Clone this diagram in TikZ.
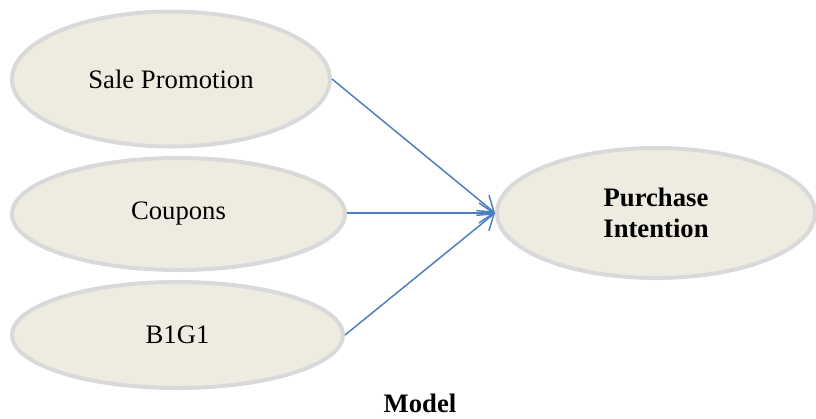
\documentclass[tikz,border=0pt]{standalone}
\usepackage{fontspec}
\setmainfont{Liberation Serif}
\usetikzlibrary{arrows.meta,positioning,shapes.geometric}
\definecolor{elfill}{RGB}{238,236,225}
\definecolor{elline}{RGB}{217,217,217}
\definecolor{arblue}{RGB}{74,126,190}
\tikzset{
  var/.style={ellipse,draw=elline,fill=elfill,line width=3pt,inner sep=0pt,
    align=center,font=\fontsize{20}{23}\selectfont},
  nyil/.style={draw=arblue,line width=1.1pt,-{Straight Barb[length=11pt,width=15pt,line width=1.1pt]}},
}
\begin{document}
\begin{tikzpicture}[x=0.75pt,y=-0.75pt]
  \useasboundingbox (0,0) rectangle (816,418);
  \node[var,minimum width=238.5pt,minimum height=101.25pt] (spromo) at (171,79) {Sale Promotion};
  \node[var,minimum width=249.75pt,minimum height=84pt] (coupons) at (178.5,214) {Coupons};
  \node[var,minimum width=248.25pt,minimum height=79.5pt] (bogo) at (177.5,335) {B1G1};
  \node[var,minimum width=238.5pt,minimum height=97.5pt,font=\fontsize{20}{23}\selectfont\bfseries]
    (intent) at (656,213) {Purchase\\Intention};
  \draw[nyil] (spromo.east) -- (intent.west);
  \draw[nyil] (coupons.east |- intent.west) -- (intent.west);
  \draw[nyil] (bogo.east) -- (intent.west);
  \node[font=\fontsize{20}{23}\selectfont\bfseries] (model) at (420,403) {Model};
\end{tikzpicture}
\end{document}
